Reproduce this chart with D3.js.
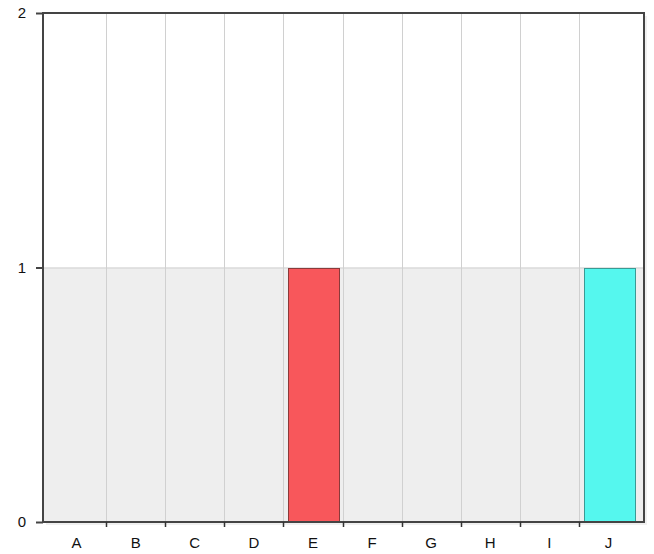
<!DOCTYPE html>
<html><head><meta charset="utf-8">
<script src="https://cdn.jsdelivr.net/npm/d3@7"></script>
<style>body{margin:0;background:#fff}svg{display:block}</style>
</head><body>
<script>
const categories = ["A","B","C","D","E","F","G","H","I","J"];
const values = [0,0,0,0,1,0,0,0,0,1];
const barColors = {E:"#f8575b", J:"#55f7ee"};
const barStrokes = {E:"#8a3a3a", J:"#3a9a94"};
const yTicks = [0,1,2];

(function(){
const W=654,H=554;
const pL=43,pR=644,pT=13,pB=522;
const svg=d3.select("body").append("svg").attr("width",W).attr("height",H)
  .style("font-family","'Liberation Sans', Arial, sans-serif");

const y=d3.scaleLinear().domain([0,2]).range([pB,pT]);
const x=d3.scaleBand().domain(categories).range([47,638]).paddingInner(0).paddingOuter(0);

// shadow
svg.append("rect").attr("x",pL+3).attr("y",pT+3).attr("width",pR-pL).attr("height",pB-pT)
  .attr("fill","#e6e6e6").attr("opacity",0.6);
// background bands
svg.append("rect").attr("x",pL).attr("y",pT).attr("width",pR-pL).attr("height",pB-pT).attr("fill","#fff");
svg.append("rect").attr("x",pL).attr("y",y(1)).attr("width",pR-pL).attr("height",y(0)-y(1)).attr("fill","#eeeeee");
// grid horizontal
svg.append("line").attr("x1",pL).attr("x2",pR).attr("y1",y(1)+0.5).attr("y2",y(1)+0.5).attr("stroke","#d0d0d0");
// vertical grid
categories.slice(1).forEach(c=>{
  const xx=Math.round(x(c))+0.5;
  svg.append("line").attr("x1",xx).attr("x2",xx).attr("y1",pT).attr("y2",pB).attr("stroke","#d0d0d0");
});
// bars
const bw=51;
svg.selectAll("rect.bar").data(categories.map((c,i)=>({c,v:values[i]})).filter(d=>d.v>0)).enter()
  .append("rect").attr("class","bar")
  .attr("x",d=>Math.round(x(d.c)+x.bandwidth()/2-bw/2+1)+0.5)
  .attr("y",d=>Math.round(y(d.v))+0.5)
  .attr("width",bw).attr("height",d=>y(0)-Math.round(y(d.v))-1)
  .attr("fill",d=>barColors[d.c]).attr("stroke",d=>barStrokes[d.c]).attr("stroke-width",1);

// frame
svg.append("rect").attr("x",pL).attr("y",pT).attr("width",pR-pL).attr("height",pB-pT)
  .attr("fill","none").attr("stroke","#444").attr("stroke-width",2);

// y axis ticks & labels
const ya=d3.axisLeft(y).tickValues(yTicks).tickFormat(d3.format("d")).tickSize(7).tickPadding(10);
const yg=svg.append("g").attr("transform",`translate(${pL},0)`).call(ya);
yg.select(".domain").remove();
yg.selectAll("line").attr("stroke","#444").attr("stroke-width",2);
yg.selectAll("text").attr("font-size",15).attr("fill","#111").attr("font-family","'Liberation Sans', Arial, sans-serif");

// x axis
const xg=svg.append("g").attr("transform",`translate(0,${pB})`);
categories.slice(1).forEach(c=>{
  const xx=Math.round(x(c))+0.5;
  xg.append("line").attr("x1",xx).attr("x2",xx).attr("y1",0).attr("y2",5).attr("stroke","#333").attr("stroke-width",1.5);
});
xg.selectAll("text").data(categories).enter().append("text")
  .attr("x",d=>x(d)+x.bandwidth()/2).attr("y",26).attr("text-anchor","middle")
  .attr("font-size",15).attr("fill","#111").text(d=>d);
})();
</script>
</body></html>
